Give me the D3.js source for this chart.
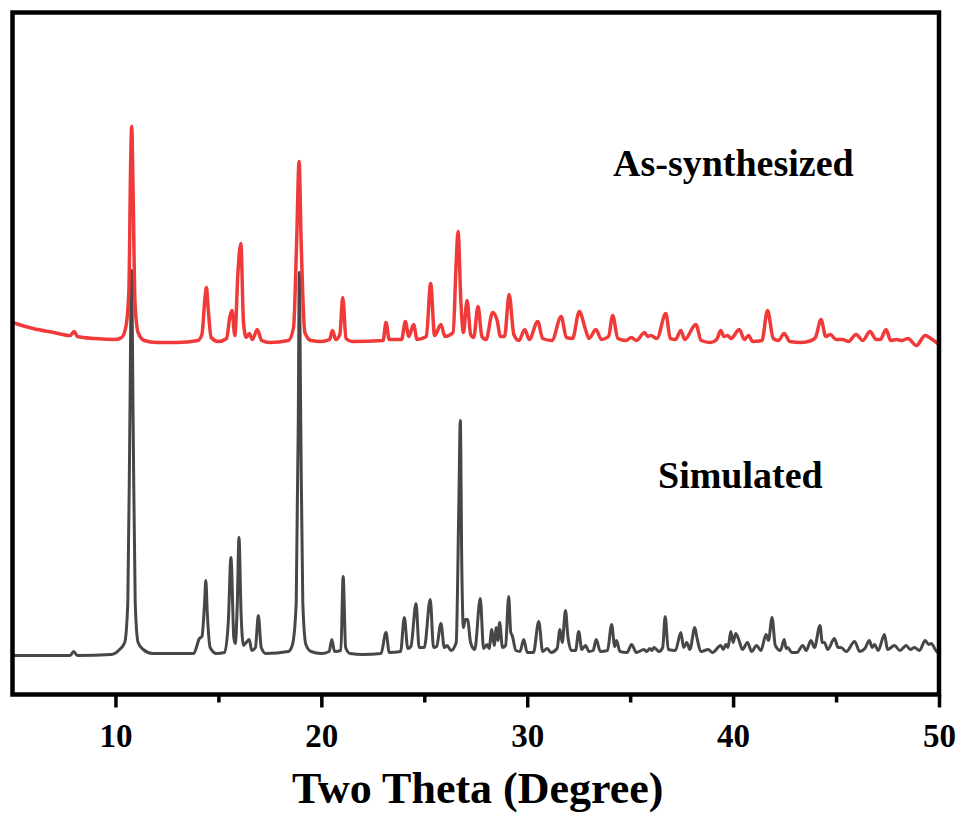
<!DOCTYPE html>
<html>
<head>
<meta charset="utf-8">
<script src="https://cdn.jsdelivr.net/npm/d3@7"></script>
<style>
  html, body { margin: 0; padding: 0; background: #ffffff; }
  svg { display: block; }
</style>
</head>
<body>
<svg id="chart" width="960" height="825"></svg>
<script>
// ---------- data (2θ in degrees, intensity in a.u., traces already offset) ----------
const seriesNames = ["Simulated", "As-synthesized"];
const majorTicks = [10, 20, 30, 40, 50];
const minorTicks = [15, 25, 35, 45];
const xLabel = "Two Theta (Degree)";

const simulated = [
  [5.0,39],[7.8,39],[7.97,43],[8.15,39],[9.8,40],[10.2,45],[10.45,52],[10.6,92],[10.7,272],[10.78,424],
  [10.86,272],[10.96,92],[11.1,52],[11.35,45],[11.8,41],[13.8,41],[14.08,56],[14.2,58],[14.33,92],[14.39,114],
  [14.46,82],[14.6,47],[14.9,41],[15.3,42],[15.48,72],[15.61,137],[15.75,57],[15.82,51],[15.92,92],[16.0,157],
  [16.1,82],[16.22,49],[16.35,52],[16.5,55],[16.62,44],[16.8,47],[16.94,79],[17.08,47],[17.3,41],[18.4,43],
  [18.6,50],[18.78,92],[18.88,272],[18.93,422],[19.0,272],[19.1,92],[19.25,50],[19.5,43],[20.0,41],[20.38,43],
  [20.51,55],[20.64,43],[20.95,44],[21.06,118],[21.18,47],[21.4,41],[22.0,40],[22.9,41],[23.14,62],[23.3,42],
  [23.85,43],[24.03,77],[24.2,46],[24.35,48],[24.6,91],[24.75,47],[25.0,47],[25.29,95],[25.45,47],[25.6,48],
  [25.81,71],[25.97,47],[26.1,49],[26.3,44],[26.55,52],[26.68,192],[26.75,274],[26.82,132],[26.9,67],[27.0,75],
  [27.1,75],[27.25,52],[27.45,45],[27.72,96],[27.88,46],[28.05,50],[28.15,46],[28.28,65],[28.4,49],[28.5,67],
  [28.58,54],[28.66,72],[28.8,47],[28.95,49],[29.1,98],[29.2,62],[29.27,59],[29.45,44],[29.65,43],[29.83,55],
  [30.0,42],[30.3,42],[30.56,73],[30.75,43],[30.97,46],[31.15,42],[31.45,46],[31.59,65],[31.7,52],[31.86,84],
  [31.97,59],[32.15,44],[32.35,44],[32.5,63],[32.65,45],[32.83,49],[33.0,43],[33.2,44],[33.35,55],[33.55,43],
  [33.9,44],[34.1,70],[34.25,48],[34.34,54],[34.5,43],[34.85,42],[35.07,50],[35.3,42],[35.67,45],[35.8,43],
  [35.96,46],[36.05,44],[36.16,47],[36.4,43],[36.58,47],[36.7,78],[36.85,45],[37.2,44],[37.46,62],[37.6,47],
  [37.75,52],[37.9,45],[38.14,67],[38.24,57],[38.45,43],[38.79,45],[39.0,42],[39.4,49],[39.52,45],[39.65,50],
  [39.75,47],[39.89,63],[40.0,52],[40.13,61],[40.29,54],[40.45,45],[40.7,52],[40.9,43],[41.14,49],[41.35,44],
  [41.6,60],[41.72,54],[41.89,77],[42.05,49],[42.3,44],[42.48,55],[42.58,46],[42.65,47],[42.85,42],[43.1,42],
  [43.38,49],[43.55,44],[43.78,54],[43.95,47],[44.22,69],[44.33,52],[44.43,52],[44.6,45],[44.92,56],[45.1,47],
  [45.24,47],[45.5,43],[45.9,53],[46.15,43],[46.4,46],[46.62,54],[46.75,47],[46.87,50],[47.05,44],[47.35,60],
  [47.5,45],[47.84,49],[48.1,44],[48.41,49],[48.6,45],[48.81,47],[49.05,44],[49.33,54],[49.5,50],[49.62,51],
  [49.85,44],[50.0,41]
];

const asSynthesized = [
  [5.0,372],[6.0,366],[7.0,362],[7.8,359],[8.0,363],[8.15,358],[9.0,356],[10.0,355],[10.3,357],[10.5,367],
  [10.65,402],[10.74,532],[10.79,568],[10.85,512],[10.95,392],[11.1,362],[11.4,354],[12.0,352],[13.0,352],[14.0,354],
  [14.2,360],[14.35,397],[14.42,407],[14.5,387],[14.65,357],[15.0,353],[15.4,356],[15.55,377],[15.66,384],[15.8,359],
  [15.95,422],[16.09,451],[16.22,372],[16.35,357],[16.5,361],[16.65,355],[16.89,365],[17.1,354],[17.5,352],[18.4,354],
  [18.65,367],[18.8,452],[18.92,533],[19.02,452],[19.2,362],[19.5,354],[20.0,353],[20.4,355],[20.54,364],[20.7,355],
  [20.9,360],[21.04,397],[21.2,356],[21.5,353],[23.0,354],[23.14,372],[23.3,355],[23.9,355],[24.08,373],[24.25,358],
  [24.48,370],[24.65,355],[25.1,358],[25.31,411],[25.5,359],[25.81,370],[26.0,358],[26.4,362],[26.55,432],[26.64,463],
  [26.78,392],[26.9,362],[27.08,394],[27.25,360],[27.4,357],[27.61,388],[27.8,358],[28.0,355],[28.32,382],[28.54,374],
  [28.7,358],[28.9,358],[29.12,400],[29.35,360],[29.6,354],[29.88,365],[30.1,355],[30.51,373],[30.75,356],[31.2,354],
  [31.65,378],[31.9,357],[32.2,356],[32.53,383],[32.83,365],[33.0,356],[33.34,365],[33.6,355],[33.95,358],[34.15,379],
  [34.4,356],[34.8,354],[35.06,357],[35.3,354],[35.7,362],[35.85,358],[36.0,359],[36.3,356],[36.73,381],[36.95,356],
  [37.2,355],[37.46,364],[37.65,355],[38.19,370],[38.45,354],[38.9,352],[39.2,355],[39.4,364],[39.55,358],[39.73,359],
  [39.9,356],[40.3,365],[40.55,355],[40.75,359],[40.95,353],[41.4,354],[41.67,384],[41.95,356],[42.2,354],[42.48,361],
  [42.75,353],[43.3,352],[43.8,354],[44.0,357],[44.27,375],[44.5,358],[44.72,360],[45.0,355],[45.32,355],[45.6,353],
  [45.97,360],[46.3,354],[46.65,363],[46.95,355],[47.15,355],[47.43,365],[47.65,354],[47.92,355],[48.2,354],[48.49,356],
  [48.9,349],[49.33,359],[49.6,356],[50.0,350]
];

const seriesColors = ["#474747", "#f03a3a"];
const seriesWidths = [3, 3.5];

// ---------- layout ----------
const svg = d3.select("#chart");
const plotLeft = 12.5, plotRight = 939, plotTop = 12.5, plotBottom = 694.5;

const x = d3.scaleLinear().domain([5, 50]).range([plotLeft, plotRight]);
const y = d3.scaleLinear().domain([0, 682]).range([plotBottom, plotTop]);

const line = d3.line()
  .x(d => x(d[0]))
  .y(d => y(d[1]))
  .curve(d3.curveMonotoneX);

const traces = [simulated, asSynthesized];
svg.append("g").selectAll("path")
  .data(traces)
  .join("path")
  .attr("d", line)
  .attr("fill", "none")
  .attr("stroke", (d, i) => seriesColors[i])
  .attr("stroke-width", (d, i) => seriesWidths[i])
  .attr("stroke-linejoin", "round");

// frame
svg.append("rect")
  .attr("x", plotLeft).attr("y", plotTop)
  .attr("width", plotRight - plotLeft).attr("height", plotBottom - plotTop)
  .attr("fill", "none").attr("stroke", "#000").attr("stroke-width", 4.5);

// axes
const font = "'Liberation Serif', 'Times New Roman', serif";
const axisMajor = svg.append("g")
  .attr("transform", `translate(0,${plotBottom})`)
  .call(d3.axisBottom(x).tickValues(majorTicks).tickSize(13).tickPadding(16).tickFormat(d3.format("d")));
axisMajor.select(".domain").remove();
axisMajor.selectAll(".tick line").attr("stroke", "#000").attr("stroke-width", 3.5);
axisMajor.selectAll(".tick text")
  .attr("font-family", font).attr("font-weight", "bold").attr("font-size", 33).attr("fill", "#000");

const axisMinor = svg.append("g")
  .attr("transform", `translate(0,${plotBottom})`)
  .call(d3.axisBottom(x).tickValues(minorTicks).tickSize(8).tickFormat(""));
axisMinor.select(".domain").remove();
axisMinor.selectAll(".tick line").attr("stroke", "#000").attr("stroke-width", 3.5);

// axis title
svg.append("text")
  .attr("x", (plotLeft + plotRight) / 2 + 2).attr("y", 803)
  .attr("text-anchor", "middle")
  .attr("font-family", font).attr("font-weight", "bold").attr("font-size", 44)
  .text(xLabel);

// series labels
const labelPos = [[658, 488], [613, 176]];
svg.append("g").selectAll("text")
  .data(seriesNames)
  .join("text")
  .attr("x", (d, i) => labelPos[i][0])
  .attr("y", (d, i) => labelPos[i][1])
  .attr("font-family", font).attr("font-weight", "bold").attr("font-size", 38)
  .attr("fill", "#000")
  .text(d => d);
</script>
</body>
</html>
